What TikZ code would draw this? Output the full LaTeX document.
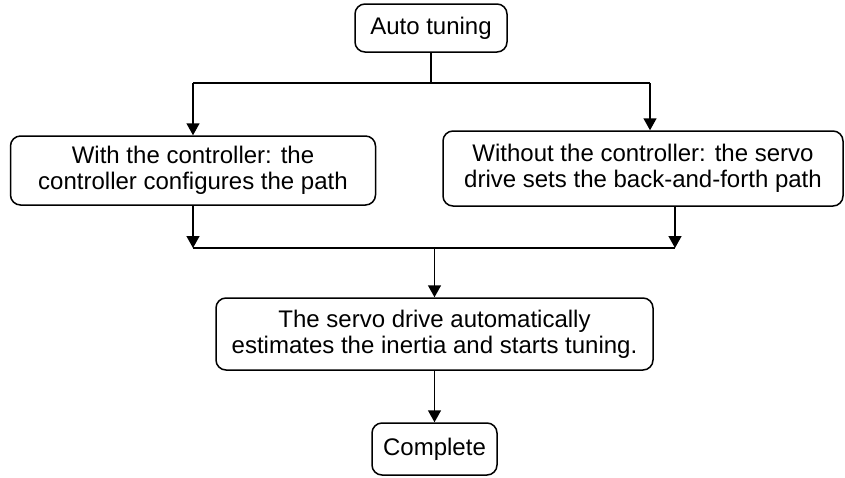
\documentclass[tikz,border=0pt]{standalone}
\usepackage{fontspec}
\setmainfont{Liberation Sans}
\usetikzlibrary{arrows.meta}
\begin{document}
\begin{tikzpicture}[x=0.5pt, y=-0.5pt, line width=0.75pt,
    box/.style = {draw, rounded corners=5pt, align=center, inner sep=2pt, font=\fontsize{12}{13}\selectfont},
    arr/.style = {-{Triangle[length=6pt, width=6.5pt]}}]
    \useasboundingbox (0,0) rectangle (845,477);

    \node[box, minimum width=76pt, minimum height=24pt] (auto) at (431, 28) {Auto tuning};

    \node[box, minimum width=182.5pt, minimum height=34.5pt] (ctrl) at (193, 170.5) {With the controller: the\\controller configures the path};
    \node[box, minimum width=200pt, minimum height=37.5pt] (noctrl) at (643, 168.5) {Without the controller: the servo\\drive sets the back-and-forth path};

    \node[box, minimum width=218.5pt, minimum height=36pt] (est) at (434.5, 334) {The servo drive automatically\\estimates the inertia and starts tuning.};

    \node[box, minimum width=62.5pt, minimum height=26pt] (done) at (434.5, 449) {Complete};

    \coordinate (a) at (431, 83);
    \coordinate (b) at (193, 83);
    \coordinate (c) at (650, 83);
    \coordinate (d) at (193, 248);
    \coordinate (e) at (675, 248);
    \coordinate (f) at (434.5, 248);

    \draw (auto) -- (a);
    \draw (b) -- (c);
    \draw[arr] (b) -- (ctrl);
    \draw[arr] (c) -- (c |- noctrl.north);

    \draw[arr] (ctrl) -- (d);
    \draw[arr] (e |- noctrl.south) -- (e);
    \draw (d) -- (e);
    \draw[arr] (f) -- (est);
    \draw[arr] (est) -- (done);

\end{tikzpicture}
\end{document}
